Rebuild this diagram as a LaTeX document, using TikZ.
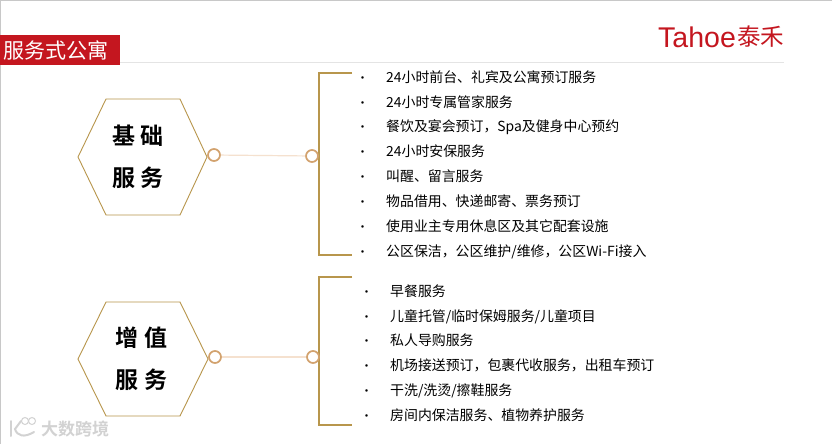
\documentclass[tikz,border=0pt]{standalone}
\usepackage{fontspec}
\setmainfont{Noto Sans CJK SC}
\newfontfamily\logoFont{Liberation Sans}
\newfontfamily\boldFont{Noto Sans CJK SC Bold}
\usetikzlibrary{positioning}

\definecolor{borderColour}{HTML}{B8964C}
\definecolor{ringColour}{HTML}{D2A26E}
\definecolor{linkColour}{HTML}{F5E1CF}
\definecolor{titleColour}{HTML}{C4161F}
\definecolor{ruleColour}{HTML}{E4E4E4}
\definecolor{frameColour}{HTML}{C8C8C8}
\definecolor{markColour}{HTML}{D2D2D2}

\tikzset{
    itemText/.style={anchor=west, inner sep=0pt, text height=12pt, text depth=1pt, font=\fontsize{13.9}{16}\selectfont},
    bulletText/.style={anchor=west, inner sep=0pt, text height=12pt, text depth=1pt, font=\fontsize{12}{14}\selectfont},
    hexText/.style={anchor=center, inner sep=0pt, align=center, font=\boldFont\fontsize{23}{42}\selectfont},
    ringDot/.style={circle, draw=ringColour, fill=white, line width=1.7pt, minimum size=12pt, inner sep=0pt},
    linkLine/.style={draw=linkColour, line width=1.2pt},
    hexLine/.style={draw=borderColour, line width=0.9pt},
    braceLine/.style={draw=borderColour, line width=1.8pt}
}

\begin{document}
\begin{tikzpicture}[x=1pt, y=-1pt]
    \useasboundingbox (0,0) rectangle (832,444);
    \fill[white] (0,0) rectangle (832,444);

    % Draw frame and header
    \draw[frameColour, line width=1.5pt] (0,444) -- (0,0) -- (832,0);
    \draw[ruleColour, line width=1pt] (0,63) -- (784,63);
    \fill[titleColour] (0,35) rectangle (120,65);
    \node[anchor=west, inner sep=0pt, text=white, font=\fontsize{21}{24}\selectfont] (title) at (3,50) {服务式公寓};

    % Draw the logo
    \node[anchor=west, inner sep=0pt, text=titleColour, font=\logoFont\fontsize{28.5}{30}\selectfont] (logoName) at (658,37) {Tahoe};
    \node[anchor=west, inner sep=0pt, text=titleColour, font=\fontsize{23.5}{26}\selectfont, right=1pt of logoName] (logoMark) {泰禾};

    % Draw the two hexagons
    \draw[hexLine] (78,157) -- (106,99) -- (180,99) -- (207,157) -- (180,215) -- (106,215) -- cycle;
    \draw[hexLine] (78,359) -- (106,302) -- (180,302) -- (208,359) -- (180,416) -- (106,416) -- cycle;
    \node[hexText] (basicHex) at (138,157) {基 础\\服 务};
    \node[hexText] (extraHex) at (141.5,359) {增 值\\服 务};

    % Draw the brackets
    \draw[braceLine] (352,73) -- (319,73) -- (319,255) -- (352,255);
    \draw[braceLine] (352,277) -- (319,277) -- (319,425) -- (352,425);

    % Rings and their links
    \node[ringDot] (basicLeft) at (214,155) {};
    \node[ringDot] (basicRight) at (312,156) {};
    \node[ringDot] (extraLeft) at (215,357) {};
    \node[ringDot] (extraRight) at (313,357) {};
    \draw[linkLine] (basicLeft) -- (basicRight);
    \draw[linkLine] (extraLeft) -- (extraRight);

    % Service lists
    \foreach \y/\label [count=\i] in {
        77/{24小时前台、礼宾及公寓预订服务},
        102/{24小时专属管家服务},
        126/{餐饮及宴会预订，Spa及健身中心预约},
        151/{24小时安保服务},
        176/{叫醒、留言服务},
        201/{物品借用、快递邮寄、票务预订},
        226/{使用业主专用休息区及其它配套设施},
        251/{公区保洁，公区维护/维修，公区Wi-Fi接入}}
    {
        \node[bulletText] (basicBullet\i) at (356.5,\y) {•};
        \node[itemText] (basicItem\i) at (386,\y) {\label};
    }
    \foreach \y/\label [count=\i] in {
        291/{早餐服务},
        316/{儿童托管/临时保姆服务/儿童项目},
        340/{私人导购服务},
        365/{机场接送预订，包裹代收服务，出租车预订},
        390/{干洗/洗烫/擦鞋服务},
        415/{房间内保洁服务、植物养护服务}}
    {
        \node[bulletText] (extraBullet\i) at (360.5,\y) {•};
        \node[itemText] (extraItem\i) at (390,\y) {\label};
    }

    % Watermark
    \draw[markColour, line width=2pt, line cap=round] (11,421) -- (11,436);
    \draw[markColour, line width=2pt, line cap=round] (21,421) -- (15,429) .. controls (17,436) and (24,438) .. (34,432);
    \draw[markColour, line width=1pt] (25,421) circle (3.5);
    \draw[markColour, line width=1pt] (32,421) circle (3.5);
    \node[anchor=west, inner sep=0pt, text=markColour, font=\boldFont\fontsize{17}{20}\selectfont] (markText) at (41,429) {大数跨境};
\end{tikzpicture}
\end{document}
